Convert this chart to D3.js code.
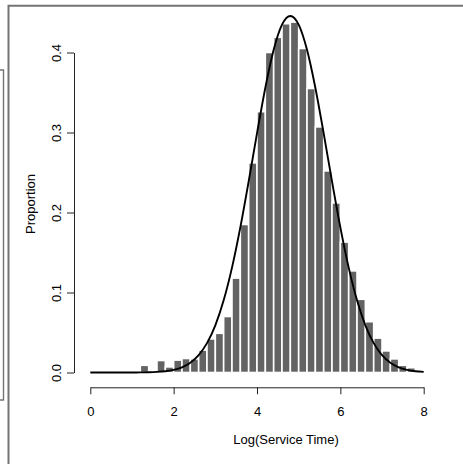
<!DOCTYPE html>
<html lang="en">
<head>
  <meta charset="UTF-8">
  <title>Log Service Time histogram</title>
  <script src="https://d3js.org/d3.v7.min.js"></script>
  <style>
    body { margin: 0; background: #fff; }
    svg text { font-family: "Liberation Sans", Arial, Helvetica, sans-serif; font-size: 13px; fill: #000; }
  </style>
</head>
<body>
  <svg id="chart" width="463" height="464"></svg>

  <script>
    // histogram bins (start of each 0.2-wide bin) and proportions
    const binStarts = d3.range(0, 8, 0.2).map(d => +d.toFixed(1));
    const proportions = [
      0, 0, 0, 0, 0,
      0.002, 0.009, 0, 0.015, 0.007,
      0.0155, 0.0175, 0.017, 0.028, 0.042,
      0.049, 0.070, 0.118, 0.185, 0.262,
      0.326, 0.400, 0.419, 0.436, 0.438,
      0.405, 0.355, 0.307, 0.252, 0.212,
      0.163, 0.127, 0.0915, 0.0635, 0.043,
      0.027, 0.017, 0.009, 0.006, 0
    ];
    const binWidth = 0.2;

    // fitted density curve
    const curveX = [0, 0.2, 0.4, 0.6, 0.8, 1.0, 1.2, 1.4, 1.6, 1.8, 2.0, 2.2, 2.4, 2.6, 2.8, 3.0,
      3.2, 3.4, 3.6, 3.8, 4.0, 4.2, 4.4, 4.6, 4.8, 5.0, 5.2, 5.4, 5.6, 5.8, 6.0, 6.2, 6.4,
      6.6, 6.8, 7.0, 7.2, 7.4, 7.6, 7.8, 8.0];
    const curveY = [0, 0, 0, 0, 0.00002, 0.00005, 0.00014, 0.00033, 0.00075, 0.00162, 0.00334,
      0.00655, 0.01223, 0.0217, 0.0367, 0.0590, 0.0902, 0.1311, 0.1814, 0.2388, 0.2989,
      0.3560, 0.4034, 0.4348, 0.4457, 0.4348, 0.4034, 0.3560, 0.2989, 0.2388, 0.1814,
      0.1311, 0.0902, 0.0590, 0.0367, 0.0217, 0.01223, 0.00655, 0.00334, 0.00162, 0.00075];

    const xTicks = [0, 2, 4, 6, 8];
    const yTicks = [0, 0.1, 0.2, 0.3, 0.4];

    const svg = d3.select('#chart');

    // scales
    const x = d3.scaleLinear().domain([0, 8]).range([90.3, 423.7]);
    const y = d3.scaleLinear().domain([0, 0.4]).range([372.5, 52.5]);

    // frame pieces from the surrounding figure
    const frame = svg.append('g')
      .attr('stroke', '#747474')
      .attr('fill', 'none');
    frame.append('path').attr('stroke-width', 2).attr('d', 'M8.5,464V5.8H463');
    frame.append('path').attr('stroke-width', 1.4).attr('d', 'M0,70H3.5V400H0');

    // bars
    const bars = binStarts.map((b, i) => ({ x0: b, x1: b + binWidth, v: proportions[i] }))
      .filter(d => d.v > 0);

    svg.append('g')
      .selectAll('rect')
      .data(bars)
      .join('rect')
      .attr('x', d => x(d.x0))
      .attr('width', d => x(d.x1) - x(d.x0))
      .attr('y', d => y(d.v))
      .attr('height', d => y(0) - y(d.v))
      .attr('fill', '#636363')
      .attr('stroke', '#fff')
      .attr('stroke-width', 1.6);

    // density curve
    const line = d3.line()
      .x(d => x(d[0]))
      .y(d => y(d[1]))
      .curve(d3.curveMonotoneX);

    svg.append('path')
      .datum(curveX.map((v, i) => [v, curveY[i]]))
      .attr('fill', 'none')
      .attr('stroke', '#000')
      .attr('stroke-width', 1.9)
      .attr('d', line);

    // x axis
    const xAxis = svg.append('g')
      .attr('transform', 'translate(0,387.3)')
      .call(d3.axisBottom(x).tickValues(xTicks).tickSize(7).tickSizeOuter(0).tickPadding(12.5)
        .tickFormat(d3.format('d')));
    xAxis.select('.domain').attr('stroke', '#222');
    xAxis.selectAll('.tick line').attr('stroke', '#222');
    xAxis.selectAll('text').attr('font-size', null).attr('font-family', null);

    // y axis
    const yAxis = svg.append('g')
      .attr('transform', 'translate(74,0)')
      .call(d3.axisLeft(y).tickValues(yTicks).tickSize(7).tickSizeOuter(0)
        .tickFormat(d3.format('.1f')));
    yAxis.select('.domain').attr('stroke', '#222');
    yAxis.selectAll('.tick line').attr('stroke', '#222');
    yAxis.selectAll('text')
      .attr('font-size', null).attr('font-family', null)
      .attr('x', null).attr('dy', null)
      .attr('text-anchor', 'middle')
      .attr('transform', 'translate(-13,0) rotate(-90)');

    // axis titles
    svg.append('text')
      .attr('x', 286)
      .attr('y', 444)
      .attr('text-anchor', 'middle')
      .text('Log(Service Time)');

    svg.append('text')
      .attr('transform', 'translate(34.5,204) rotate(-90)')
      .attr('text-anchor', 'middle')
      .text('Proportion');
  </script>
</body>
</html>
